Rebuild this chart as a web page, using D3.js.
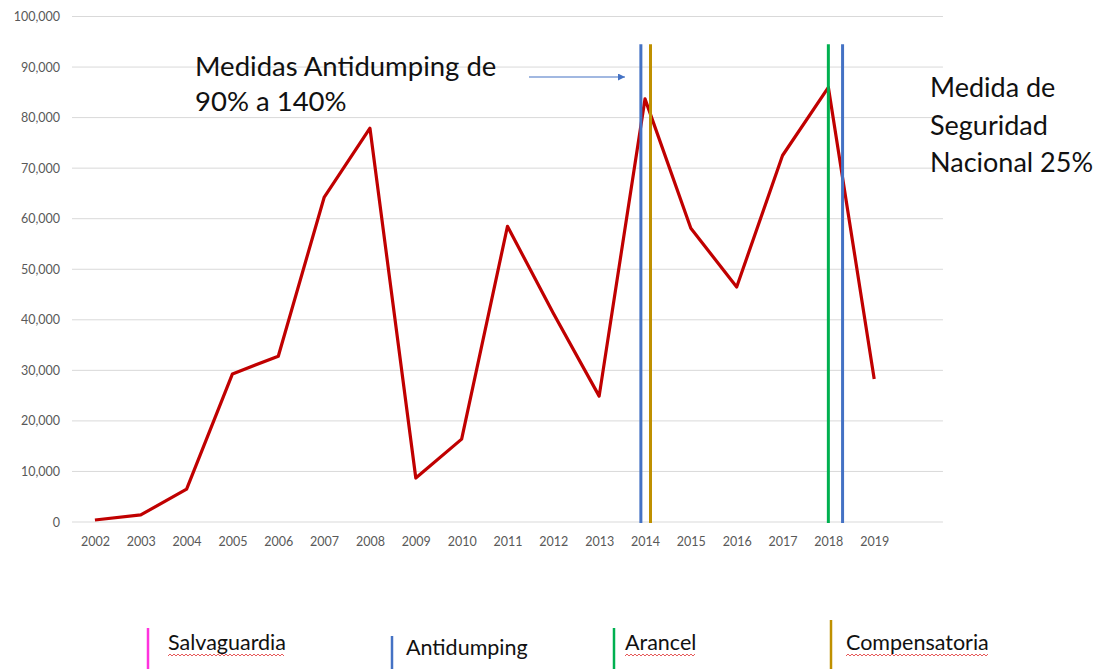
<!DOCTYPE html>
<html>
<head>
<meta charset="utf-8">
<script src="https://cdn.jsdelivr.net/npm/d3@7"></script>
<style>
  body { margin: 0; background: #fff; }
  svg { display: block; font-family: Lato, "Open Sans", sans-serif; }
</style>
</head>
<body>
<div id="chart"></div>
<script>
// Data
const years = ["2002","2003","2004","2005","2006","2007","2008","2009","2010","2011",
               "2012","2013","2014","2015","2016","2017","2018","2019"];
const values = [400, 1400, 6500, 29300, 32800, 64200, 77900, 8700, 16400, 58500,
                41300, 24900, 83700, 58100, 46500, 72500, 86000, 28300];
const yTicks = [0, 10000, 20000, 30000, 40000, 50000, 60000, 70000, 80000, 90000, 100000];

// measures, as fractional position on the year axis
const measureNames = ["Antidumping", "Compensatoria", "Arancel", "Antidumping"];
const measureYears = [2013.91, 2014.12, 2018.0, 2018.31];

const legendNames = ["Salvaguardia", "Antidumping", "Arancel", "Compensatoria"];
const typeColors = {
    Salvaguardia: "#FF33DD",
    Antidumping: "#4472C4",
    Arancel: "#00B050",
    Compensatoria: "#BF9000"
};

const W = 1097, H = 669;
const svg = d3.select("#chart").append("svg")
    .attr("width", W).attr("height", H);

// x: one band per year, plus an empty slot at the end (as in Excel)
const left = 72, step = 45.84;
const x = d3.scalePoint()
    .domain(years)
    .range([left + step / 2, left + step / 2 + step * (years.length - 1)]);
const gridRight = left + step * (years.length + 1);

const y = d3.scaleLinear().domain([0, 100000]).range([522, 16.5]);

// gridlines
svg.append("g")
    .selectAll("line")
    .data(yTicks)
    .join("line")
    .attr("x1", left).attr("x2", gridRight)
    .attr("y1", d => y(d)).attr("y2", d => y(d))
    .attr("stroke", "#D9D9D9").attr("stroke-width", 1);

// y axis labels
const yAxis = svg.append("g")
    .attr("transform", `translate(${left - 9},0)`)
    .call(d3.axisLeft(y).tickValues(yTicks).tickSize(0).tickFormat(d3.format(",")));
yAxis.select(".domain").remove();
yAxis.selectAll("text")
    .attr("fill", "#595959").style("font-size", "12.5px")
    .style("font-family", "Lato, 'Open Sans', sans-serif");

// x axis labels
const xAxis = svg.append("g")
    .attr("transform", `translate(0,${y(0) + 12})`)
    .call(d3.axisBottom(x).tickSize(0));
xAxis.select(".domain").remove();
xAxis.selectAll("text")
    .attr("fill", "#595959").style("font-size", "12.5px")
    .style("font-family", "Lato, 'Open Sans', sans-serif");

// main series
const line = d3.line()
    .x((d, i) => x(years[i]))
    .y(d => y(d));

svg.append("path")
    .datum(values)
    .attr("d", line)
    .attr("fill", "none")
    .attr("stroke", "#C00000")
    .attr("stroke-width", 3.2)
    .attr("stroke-linejoin", "round");

// vertical measure lines
const yearPos = v => x(years[0]) + (v - +years[0]) * x.step();
svg.append("g")
    .selectAll("line")
    .data(measureYears)
    .join("line")
    .attr("x1", d => yearPos(d)).attr("x2", d => yearPos(d))
    .attr("y1", y(94500)).attr("y2", y(0) + 1)
    .attr("stroke", (d, i) => typeColors[measureNames[i]])
    .attr("stroke-width", 3);

// annotation with arrow
svg.append("defs").append("marker")
    .attr("id", "arrow")
    .attr("viewBox", "0 0 10 10")
    .attr("refX", 10).attr("refY", 5)
    .attr("markerWidth", 8).attr("markerHeight", 7)
    .attr("markerUnits", "userSpaceOnUse")
    .attr("orient", "auto")
    .append("path")
    .attr("d", "M0,0 L10,5 L0,10 z")
    .attr("fill", "#4472C4");

svg.append("line")
    .attr("x1", 529).attr("x2", 625)
    .attr("y1", 77).attr("y2", 77)
    .attr("stroke", "#4472C4").attr("stroke-width", 1.2)
    .attr("marker-end", "url(#arrow)");

const note1 = ["Medidas Antidumping de", "90% a 140%"];
svg.append("text")
    .attr("x", 195).attr("y", 76)
    .style("font-size", "27.5px").attr("fill", "#111")
    .selectAll("tspan")
    .data(note1)
    .join("tspan")
    .attr("x", 195)
    .attr("dy", (d, i) => i ? 35 : 0)
    .text(d => d);

const note2 = ["Medida de", "Seguridad", "Nacional 25%"];
svg.append("text")
    .attr("x", 930).attr("y", 97)
    .style("font-size", "27px").attr("fill", "#111")
    .selectAll("tspan")
    .data(note2)
    .join("tspan")
    .attr("x", 930)
    .attr("dy", (d, i) => i ? 37.5 : 0)
    .text(d => d);

// legend (drawn like the original text boxes)
const legendX = [148, 392, 614, 831];
const legendTextX = [168, 406, 625, 846];
const legendTop = [628, 636, 628, 620];
const legendBase = [650, 655, 650, 650];
const misspelled = [true, false, true, true];

const lg = svg.append("g").selectAll("g")
    .data(legendNames)
    .join("g");

lg.append("line")
    .attr("x1", (d, i) => legendX[i]).attr("x2", (d, i) => legendX[i])
    .attr("y1", (d, i) => legendTop[i]).attr("y2", H)
    .attr("stroke", d => typeColors[d])
    .attr("stroke-width", 2.5);

const lt = lg.append("text")
    .attr("x", (d, i) => legendTextX[i])
    .attr("y", (d, i) => legendBase[i])
    .style("font-size", "21.5px")
    .attr("fill", "#111")
    .text(d => d);

// red wavy spell-check underline
lt.each(function (d, i) {
    if (!misspelled[i]) return;
    const w = this.getComputedTextLength();
    const x0 = legendTextX[i], y0 = legendBase[i] + 5;
    const pts = d3.range(0, Math.floor(w / 2) + 1).map(k => [x0 + k * 2, y0 + (k % 2 ? -1 : 1)]);
    svg.append("path")
        .attr("d", d3.line()(pts))
        .attr("fill", "none")
        .attr("stroke", "#E03030")
        .attr("stroke-width", 0.8);
});
</script>
</body>
</html>
